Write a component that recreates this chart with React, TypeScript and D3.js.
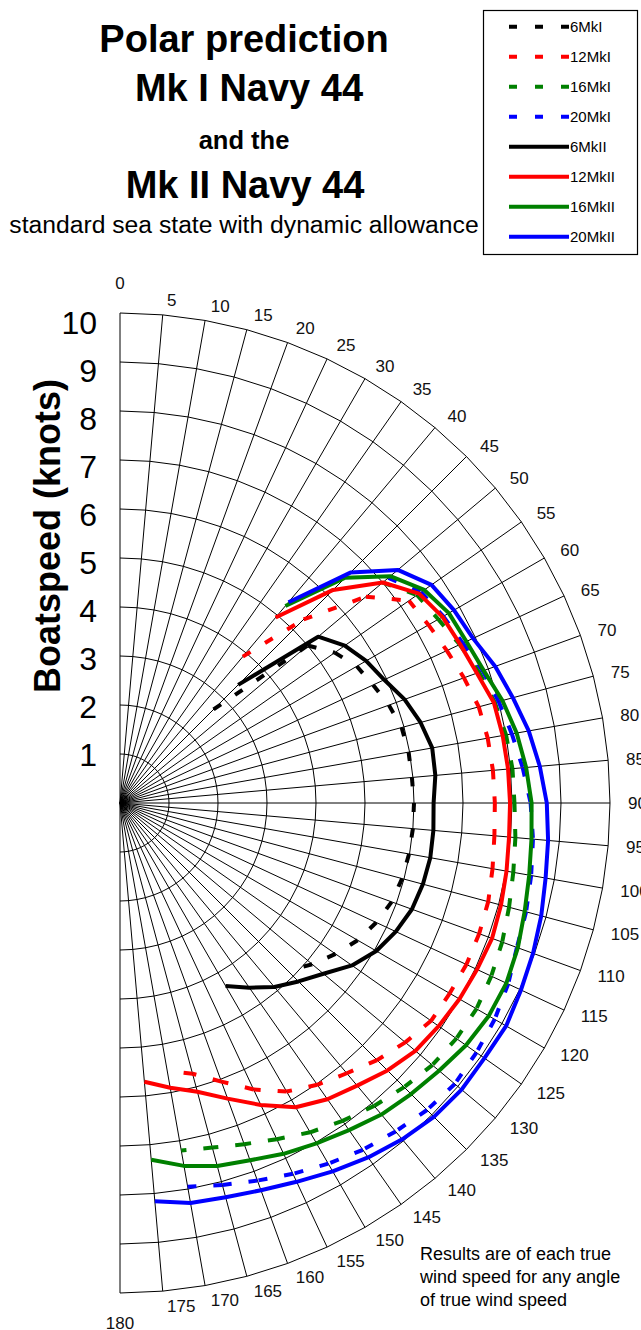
import React from 'react';
import * as d3 from 'd3';

const _ = null;

// Categories: true wind angle (degrees)
const ANGLES = [0, 5, 10, 15, 20, 25, 30, 35, 40, 45, 50, 55, 60, 65, 70, 75, 80, 85, 90,
  95, 100, 105, 110, 115, 120, 125, 130, 135, 140, 145, 150, 155, 160, 165, 170, 175, 180];

// Radial ticks (boatspeed, knots)
const SPEED_TICKS = [1, 2, 3, 4, 5, 6, 7, 8, 9, 10];

// Mk I (dashed) series, aligned with ANGLES
const s6MkI = [_, _, _, _, _, _, _, _, _, 2.7, 5.0, 5.35, 5.58, 5.7, 5.84, 5.95, 5.98, 5.98, 6.0, 6.0,
  5.99, 5.96, 5.9, 5.77, 5.6, 5.37, 5.12, 4.85, _, _, _, _, _, _, _, _, _];
const s12MkI = [_, _, _, _, _, _, _, _, 3.9, 5.3, 6.55, 7.2, 7.27, 7.36, 7.47, 7.58, 7.62, 7.64, 7.65, 7.67,
  7.72, 7.78, 7.8, 7.8, 7.77, 7.75, 7.6, 7.42, 7.2, 7.02, 6.8, 6.45, 6.05, 5.72, 5.55, _, _];
const s16MkI = [_, _, _, _, _, _, _, _, _, _, 7.0, 7.4, 7.5, 7.65, 7.8, 7.92, 8.0, 8.04, 8.05, 8.1,
  8.15, 8.22, 8.3, 8.36, 8.4, 8.38, 8.32, 8.2, 8.07, 7.92, 7.76, 7.57, 7.41, 7.28, 7.2, _, _];
const s20MkI = [_, _, _, _, _, _, _, _, _, _, 7.15, 7.5, 7.62, 7.72, 7.88, 8.0, 8.12, 8.25, 8.38, 8.46,
  8.52, 8.58, 8.62, 8.74, 8.83, 8.88, 8.92, 8.86, 8.75, 8.64, 8.5, 8.35, 8.2, 8.07, 7.95, _, _];

// Mk II (solid) series, aligned with ANGLES
const s6MkII = [_, _, _, _, _, _, _, _, _, 3.41, 5.28, 5.6, 5.8, 5.95, 6.18, 6.35, 6.47, 6.46, 6.4, 6.42,
  6.43, 6.4, 6.34, 6.21, 6.04, 5.78, 5.42, 5.15, 4.9, 4.6, 4.31, _, _, _, _, _, _];
const s12MkII = [_, _, _, _, _, _, _, _, 4.94, 6.15, 7.0, 7.45, 7.6, 7.66, 7.75, 7.9, 7.93, 7.95, 7.96, 7.97,
  8.01, 8.05, 8.08, 8.04, 8.0, 7.94, 7.87, 7.72, 7.53, 7.38, 7.17, 6.8, 6.42, 6.1, 5.9, 5.71, _];
const s16MkII = [_, _, _, _, _, _, _, _, 5.25, 6.5, 7.2, 7.58, 7.75, 7.8, 7.9, 8.08, 8.22, 8.32, 8.4, 8.43,
  8.48, 8.55, 8.64, 8.7, 8.69, 8.62, 8.5, 8.4, 8.3, 8.15, 8.02, 7.9, 7.76, 7.67, 7.52, 7.31, _];
const s20MkII = [_, _, _, _, _, _, _, _, 5.35, 6.65, 7.4, 7.76, 7.87, 7.95, 8.15, 8.3, 8.47, 8.6, 8.71, 8.77,
  8.82, 8.9, 8.97, 9.03, 9.1, 9.08, 9.1, 9.06, 8.96, 8.83, 8.68, 8.53, 8.41, 8.33, 8.29, 8.16, _];

const SERIES_NAMES = ['6MkI', '12MkI', '16MkI', '20MkI', '6MkII', '12MkII', '16MkII', '20MkII'];
const SERIES_VALUES = [s6MkI, s12MkI, s16MkI, s20MkI, s6MkII, s12MkII, s16MkII, s20MkII];
const SERIES_COLORS = ['#000000', '#ff0000', '#008000', '#0000ff', '#000000', '#ff0000', '#008000', '#0000ff'];
const SERIES_DASHED = [true, true, true, true, false, false, false, false];

const TITLE_LINES = ['Polar prediction', 'Mk I Navy 44', 'and the', 'Mk II Navy 44'];
const SUBTITLE = 'standard sea state with dynamic allowance';
const NOTE_LINES = ['Results are of each true', 'wind speed for any angle', 'of true wind speed'];
const AXIS_TITLE = 'Boatspeed (knots)';

const W = 641;
const H = 1330;
const CX = 120;
const CY = 803;
const RADIUS = 490;
const FONT = 'Liberation Sans, Arial, Helvetica, sans-serif';
const DASH = '9 17';

type Pt = [number, number | null];

export default function App() {
  const aScale = d3.scaleLinear().domain([0, 180]).range([0, Math.PI]);
  const rScale = d3.scaleLinear().domain([0, 10]).range([0, RADIUS]);
  const labelY = d3.scaleLinear().domain([10, 1]).range([323, 755]);

  const ringPath = (v: number) =>
    d3.lineRadial<number>().angle((a) => aScale(a)).radius(() => rScale(v))(ANGLES) || '';

  const seriesLine = d3
    .lineRadial<Pt>()
    .defined((d) => d[1] != null)
    .angle((d) => aScale(d[0]))
    .radius((d) => rScale(d[1] as number));

  const segLine = d3
    .lineRadial<Pt>()
    .angle((d) => aScale(d[0]))
    .radius((d) => rScale(d[1] as number));

  const legendY = d3.scaleLinear().domain([0, 7]).range([26.7, 236.7]);

  return (
    <svg
      width={W}
      height={H}
      viewBox={`0 0 ${W} ${H}`}
      style={{ position: 'absolute', left: 0, top: 0, background: '#fff' }}
      fontFamily={FONT}
    >
      <rect x={0} y={0} width={W} height={H} fill="#fff" />

      {/* Titles */}
      <g textAnchor="middle" fill="#000">
        <text x={244} y={52} fontSize={38} fontWeight="bold">{TITLE_LINES[0]}</text>
        <text x={249} y={101} fontSize={38} fontWeight="bold">{TITLE_LINES[1]}</text>
        <text x={244} y={149} fontSize={25.5} fontWeight="bold">{TITLE_LINES[2]}</text>
        <text x={245} y={198} fontSize={38} fontWeight="bold">{TITLE_LINES[3]}</text>
        <text x={244} y={233} fontSize={24.7}>{SUBTITLE}</text>
      </g>

      {/* Legend */}
      <g>
        <rect x={483.5} y={10.5} width={154} height={244} fill="#fff" stroke="#000" strokeWidth={1.2} />
        {SERIES_NAMES.map((name, i) => (
          <g key={name}>
            <line
              x1={509}
              x2={569}
              y1={legendY(i)}
              y2={legendY(i)}
              stroke={SERIES_COLORS[i]}
              strokeWidth={4}
              strokeDasharray={SERIES_DASHED[i] ? '8 18' : undefined}
            />
            <text x={570} y={legendY(i)} dy="0.35em" fontSize={15} fill="#000">
              {name}
            </text>
          </g>
        ))}
      </g>

      {/* Polar grid */}
      <g transform={`translate(${CX},${CY})`} fill="none" stroke="#000" strokeWidth={1}>
        {ANGLES.map((a) => {
          const [x, y] = d3.pointRadial(aScale(a), rScale(10));
          return <line key={`s${a}`} x1={0} y1={0} x2={x} y2={y} />;
        })}
        {SPEED_TICKS.map((v) => (
          <path key={`r${v}`} d={ringPath(v)} />
        ))}
      </g>

      {/* Angle labels */}
      <g fontSize={17} fill="#111">
        {ANGLES.map((a) => {
          const edge = a === 0 || a === 180;
          const [x, y] = d3.pointRadial(aScale(a), rScale(10) + (edge ? 30 : 15));
          return (
            <text
              key={`a${a}`}
              x={CX + x + (edge ? 0 : 3)}
              y={CY + y}
              dy="0.35em"
              textAnchor={edge ? 'middle' : 'start'}
            >
              {a}
            </text>
          );
        })}
      </g>

      {/* Speed labels */}
      <g fontSize={32} fill="#000" textAnchor="end">
        {SPEED_TICKS.map((v) => (
          <text key={`l${v}`} x={97} y={labelY(v)} dy="0.35em">
            {v}
          </text>
        ))}
      </g>
      <text
        transform="translate(60,536) rotate(-90)"
        textAnchor="middle"
        fontSize={36}
        fontWeight="bold"
        fill="#000"
      >
        {AXIS_TITLE}
      </text>

      {/* Series */}
      <g transform={`translate(${CX},${CY})`} fill="none">
        {SERIES_VALUES.map((vals, si) => {
          const pts: Pt[] = ANGLES.map((a, i) => [a, vals[i]]);
          if (!SERIES_DASHED[si]) {
            return (
              <path
                key={SERIES_NAMES[si]}
                d={seriesLine(pts) || ''}
                stroke={SERIES_COLORS[si]}
                strokeWidth={4}
                strokeLinejoin="round"
              />
            );
          }
          const segs: Pt[][] = [];
          for (let i = 0; i < pts.length - 1; i++) {
            if (pts[i][1] != null && pts[i + 1][1] != null) segs.push([pts[i], pts[i + 1]]);
          }
          return (
            <g key={SERIES_NAMES[si]} stroke={SERIES_COLORS[si]} strokeWidth={4} strokeDasharray={DASH}>
              {segs.map((s, k) => (
                <path key={k} d={segLine(s) || ''} />
              ))}
            </g>
          );
        })}
      </g>

      {/* Note */}
      <g fontSize={18} fill="#000">
        {NOTE_LINES.map((t, i) => (
          <text key={t} x={420} y={1254 + i * 23} dy="0.35em">
            {t}
          </text>
        ))}
      </g>
    </svg>
  );
}
